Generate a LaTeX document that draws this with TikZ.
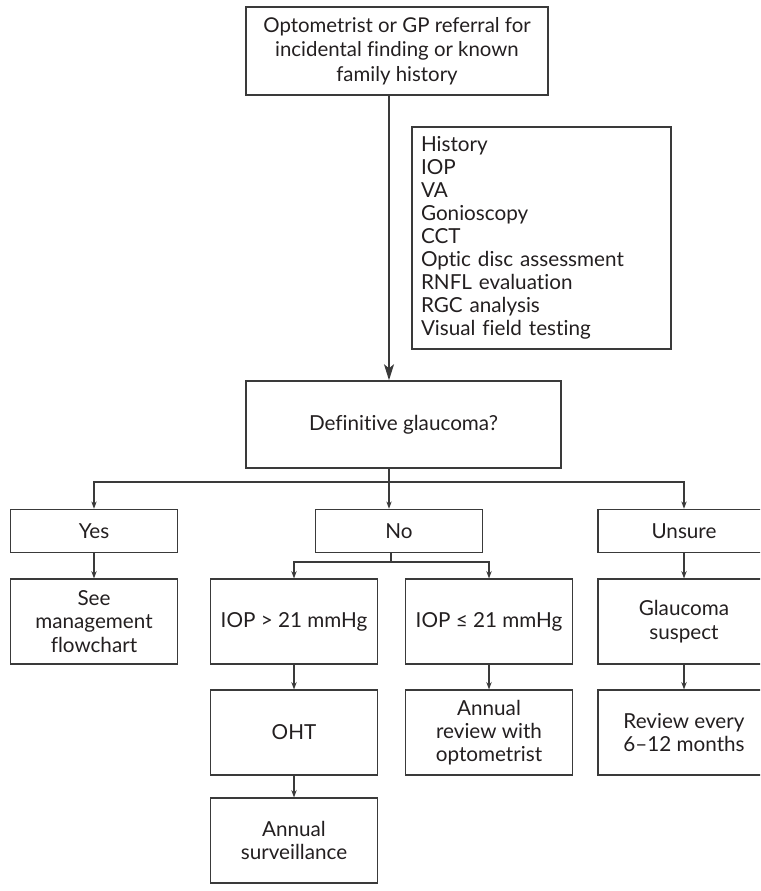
\documentclass[tikz,border=0pt]{standalone}
\usepackage{fontspec}
\setmainfont{Lato}[Ligatures=NoCommon]
\usepackage{tikz}
\usetikzlibrary{arrows.meta}
\definecolor{linegray}{HTML}{3A3A3A}
\definecolor{textgray}{HTML}{231F20}

\begin{document}
\begin{tikzpicture}[x=0.75pt,y=-0.75pt,
	box/.style={draw=linegray,line width=1.1pt,text=textgray,align=center,inner sep=0pt,font=\fontsize{15.5}{17.5}\selectfont,minimum width=125.25pt,minimum height=63.5pt},
	widebox/.style={box,minimum width=129pt},
	flatbox/.style={box,minimum height=32.25pt},
	arr/.style={draw=linegray,line width=1.1pt,-{Stealth[length=5.5pt,width=4pt]}},
	bigarr/.style={draw=linegray,line width=1.1pt,-{Stealth[length=12pt,width=7.5pt,inset=3pt]}},
	plain/.style={draw=linegray,line width=1.1pt}]
	\useasboundingbox (0,0) rectangle (760,891);
	\clip (0,0) rectangle (760,891);
	\node[box,minimum width=226.5pt,minimum height=66pt,font=\fontsize{15.3}{18.4}\selectfont] (refer) at (397,51) {Optometrist or GP referral for\\incidental finding or known\\family history};
	\node[box,align=left,inner xsep=6.75pt,text width=180.75pt,minimum height=166.5pt,font=\fontsize{15.5}{17.25}\selectfont] (tests) at (541.5,238) {History\\IOP\\VA\\Gonioscopy\\CCT\\Optic disc assessment\\RNFL evaluation\\RGC analysis\\Visual field testing};
	\node[box,minimum width=236.25pt,minimum height=65.25pt] (defin) at (403.5,424.5) {Definitive glaucoma?};
	\node[flatbox] (yes) at (94,531) {Yes};
	\node[flatbox] (no) at (399,531) {No};
	\node[flatbox,minimum width=129pt] (unsure) at (684,531) {Unsure};
	\node[box] (see) at (94,621.5) {See\\management\\flowchart};
	\node[box] (iopgt) at (294,621.5) {IOP > 21 mmHg};
	\node[box] (iople) at (489,621.5) {IOP ≤ 21 mmHg};
	\node[widebox] (suspect) at (684,621.5) {Glaucoma\\suspect};
	\node[box] (oht) at (294,732.5) {OHT};
	\node[box] (annual) at (489,732.5) {Annual\\review with\\optometrist};
	\node[widebox] (review) at (684,732.5) {Review every\\6–12 months};
	\node[box] (surveil) at (294,840.5) {Annual\\surveillance};
	\coordinate (trunk) at (389,482);
	\coordinate (nosplit) at (391,562);
	\draw[bigarr] (refer.south -| trunk) -- (defin.north -| trunk);
	\draw[plain] (defin.south -| trunk) -- (trunk);
	\draw[arr] (trunk) -- (no.north -| trunk);
	\foreach \b in {yes,unsure}{
		\draw[arr] (trunk) -| (\b.north);
	}
	\draw[plain] (no.south -| nosplit) -- (nosplit);
	\foreach \b in {iopgt,iople}{
		\draw[arr] (nosplit) -| (\b.north);
	}
	\foreach \a/\b in {yes/see,unsure/suspect,suspect/review,iopgt/oht,oht/surveil,iople/annual}{
		\draw[arr] (\a) -- (\b);
	}
\end{tikzpicture}
\end{document}
